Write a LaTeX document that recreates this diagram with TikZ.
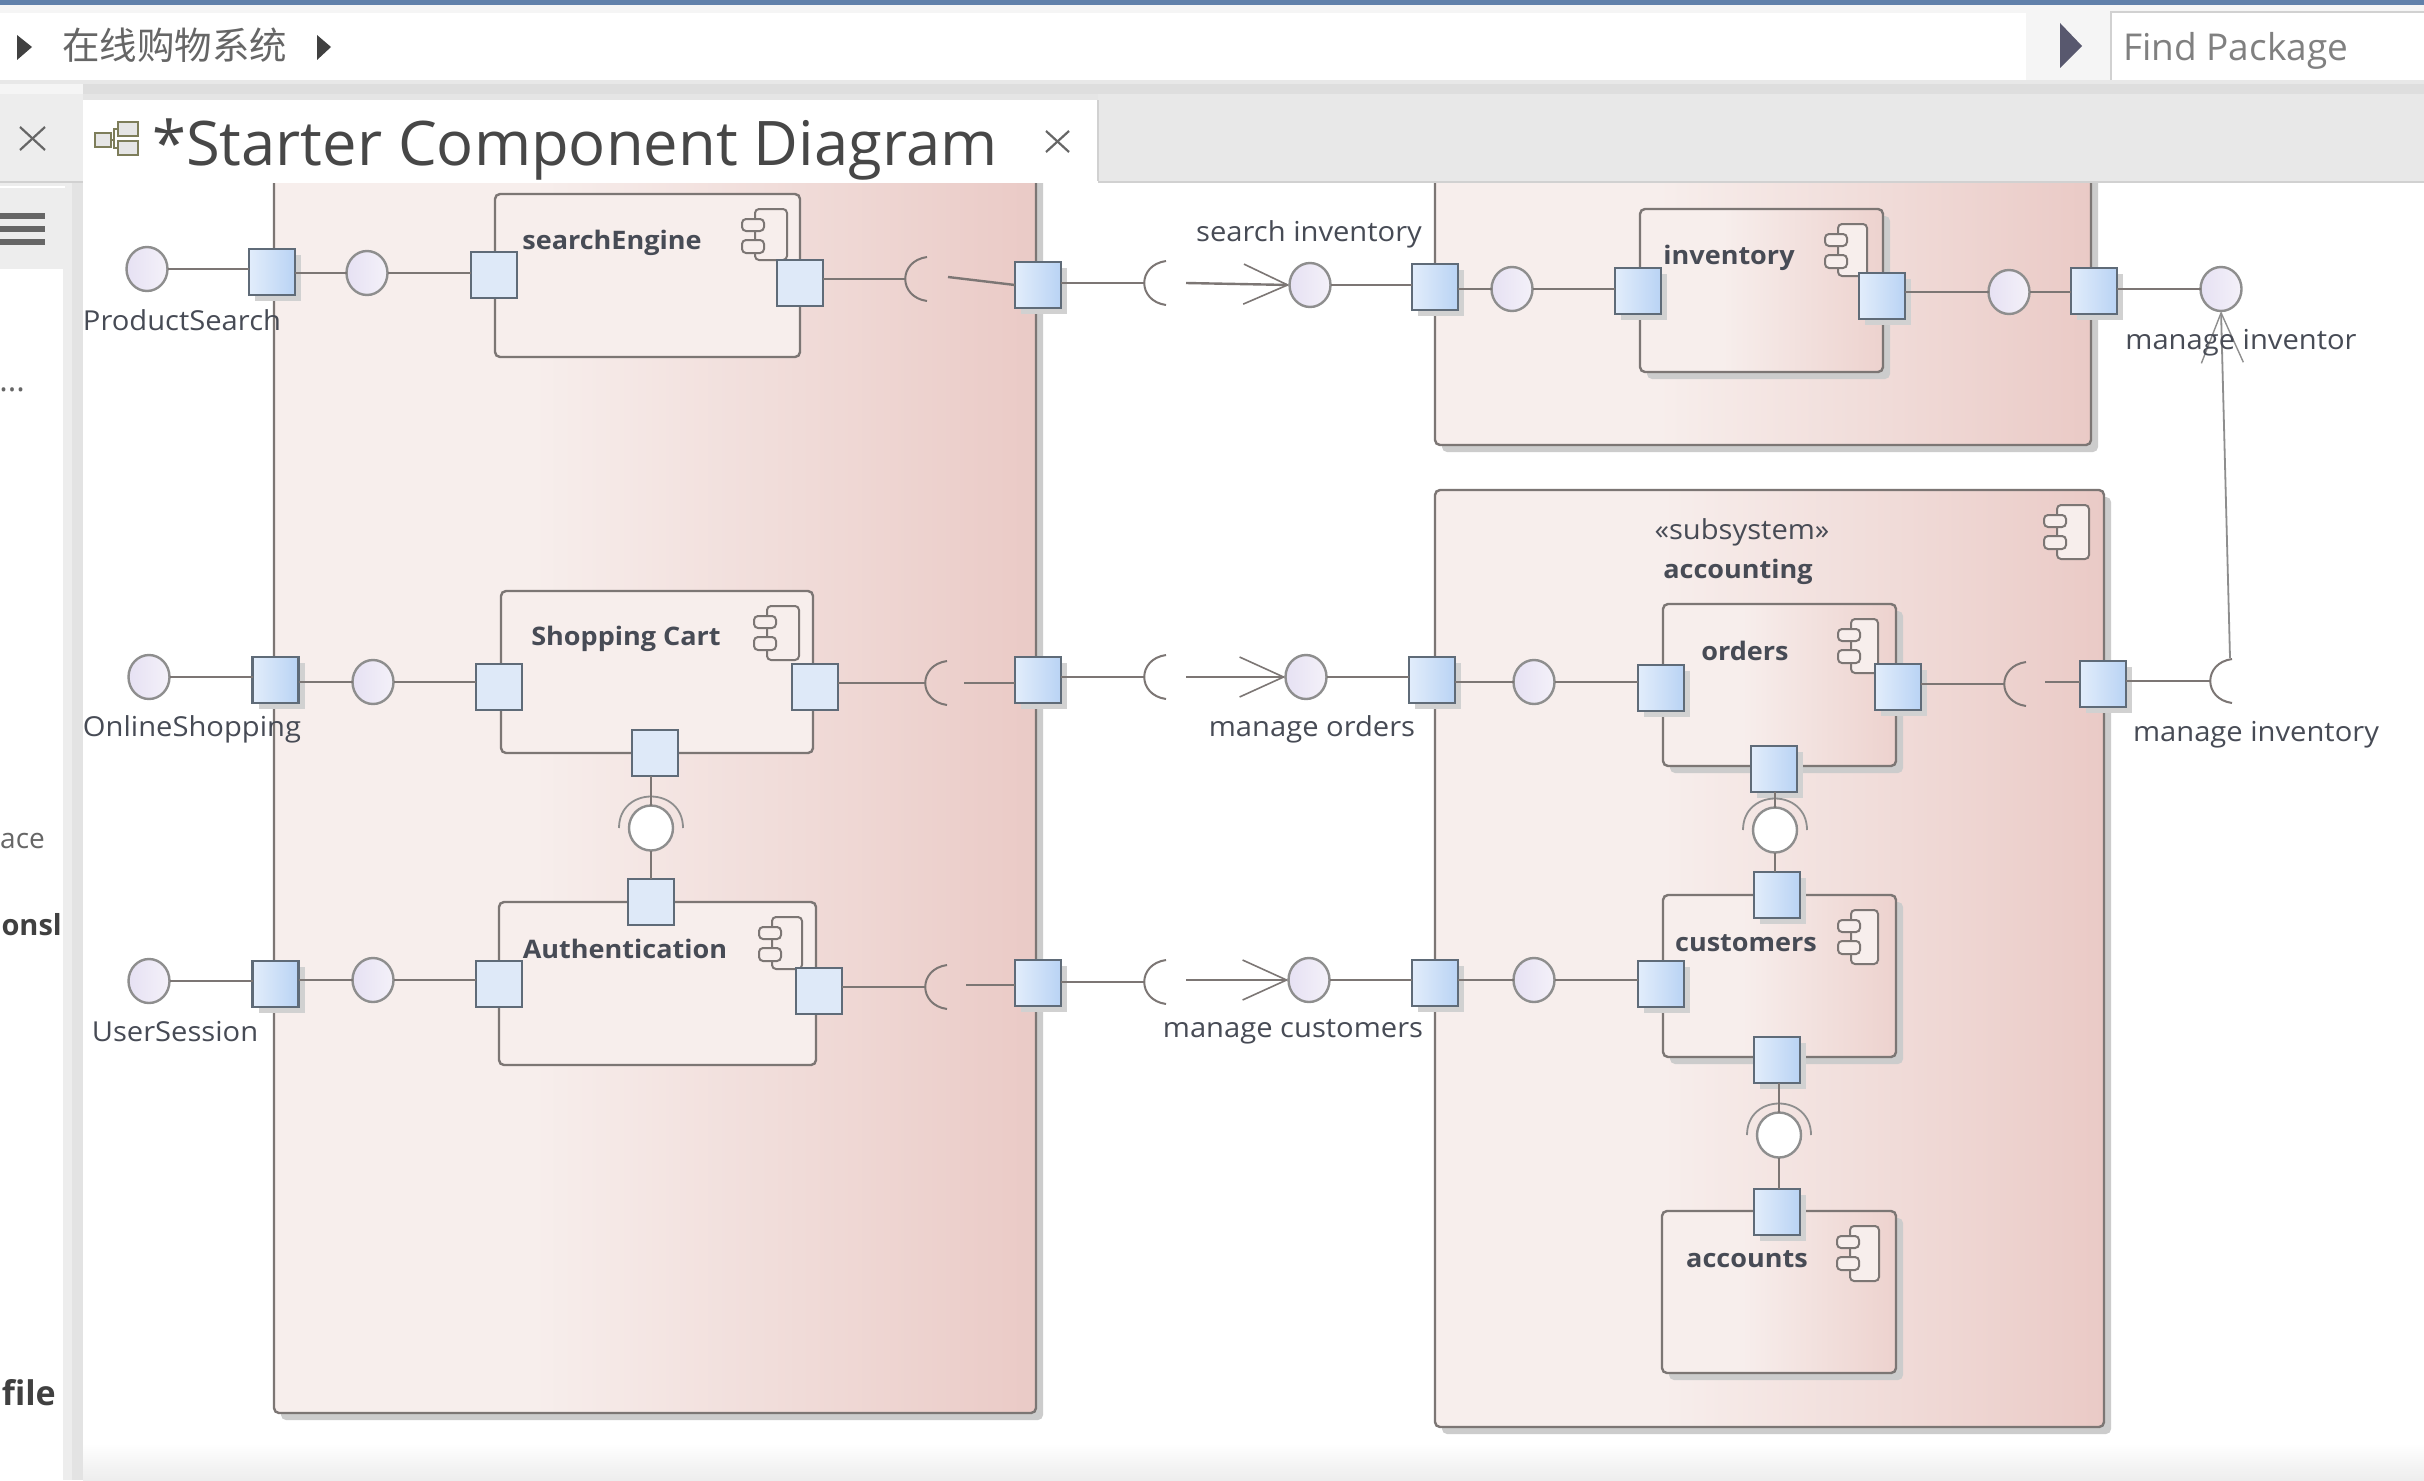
\documentclass[tikz,border=0pt]{standalone}
\usepackage{fontspec}
\setmainfont{Open Sans}
\newfontfamily\labf[FakeStretch=1.06]{Open Sans}
\newfontfamily\cjkf{Noto Sans CJK SC}
\usetikzlibrary{arrows.meta,shapes.geometric,shadows}
\definecolor{edgec}{HTML}{7C7674}
\definecolor{thinc}{HTML}{8E8E8E}
\definecolor{portb}{HTML}{5F6B78}
\definecolor{txtc}{HTML}{474B55}
\definecolor{pinkA}{HTML}{F7EEEC}
\definecolor{pinkB}{HTML}{EACAC6}
\definecolor{pinkC}{HTML}{EDD2CE}
\definecolor{portA}{HTML}{E2EDFB}
\definecolor{portB}{HTML}{B9D3F4}
\definecolor{portF}{HTML}{DEE9F8}
\definecolor{ballA}{HTML}{E6E1F3}
\definecolor{ballB}{HTML}{F4F1F9}
\definecolor{topblue}{RGB}{96,128,170}
\definecolor{slatearrow}{RGB}{88,88,110}
\definecolor{iconolive}{RGB}{125,125,90}
\pgfdeclarehorizontalshading{bigsh}{100bp}{color(0bp)=(pinkA); color(25bp)=(pinkA); color(42bp)=(pinkA); color(75bp)=(pinkB); color(100bp)=(pinkB)}
\pgfdeclarehorizontalshading{compsh}{100bp}{color(0bp)=(pinkA); color(25bp)=(pinkA); color(42bp)=(pinkA); color(75bp)=(pinkC); color(100bp)=(pinkC)}
\pgfdeclarehorizontalshading{portsh}{100bp}{color(0bp)=(portA); color(25bp)=(portA); color(75bp)=(portB); color(100bp)=(portB)}
\pgfdeclarehorizontalshading{ballsh}{100bp}{color(0bp)=(ballA); color(25bp)=(ballA); color(75bp)=(ballB); color(100bp)=(ballB)}
\tikzset{
  x=1pt,y=-1pt,
  bigbox/.style={draw=edgec,line width=2.4pt,rounded corners=5pt,shading=bigsh,inner sep=0,outer sep=0,anchor=north west,
    general shadow={shadow xshift=7pt,shadow yshift=-7pt,fill=black!20}},
  compg/.style={draw=edgec,line width=2.4pt,rounded corners=5pt,shading=compsh,inner sep=0,outer sep=0,anchor=north west,
    general shadow={shadow xshift=7pt,shadow yshift=-7pt,fill=black!20}},
  compf/.style={draw=edgec,line width=2.4pt,rounded corners=5pt,fill=pinkA,inner sep=0,outer sep=0,anchor=north west},
  portg/.style={draw=portb,line width=2.2pt,shading=portsh,minimum width=46pt,minimum height=46pt,inner sep=0,outer sep=0,
    general shadow={shadow xshift=6pt,shadow yshift=-6pt,fill=black!18}},
  portf/.style={draw=portb,line width=2.2pt,fill=portF,minimum width=46pt,minimum height=46pt,inner sep=0,outer sep=0},
  ballp/.style={ellipse,draw=thinc,line width=2.4pt,shading=ballsh,minimum width=41pt,minimum height=44pt,inner sep=0,outer sep=0},
  ballw/.style={ellipse,draw=thinc,line width=2.4pt,fill=white,minimum width=44pt,minimum height=45pt,inner sep=0,outer sep=0},
  conn/.style={draw=edgec,line width=2.4pt},
  sockline/.style={draw=edgec,line width=2pt},
  thin conn/.style={draw=thinc,line width=1.8pt},
  arr/.style={conn,-{Straight Barb[length=44pt,width=40pt,line width=1.6pt]}},
  lab/.style={text=txtc,font=\labf\fontsize{27.5}{30}\selectfont,inner sep=0},
  blab/.style={text=txtc,font=\labf\bfseries\fontsize{25.5}{30}\selectfont,inner sep=0},
  icn/.style={draw=edgec,line width=2pt,rounded corners=4pt,fill=pinkA},
  chrome/.style={fill=#1,draw=none},
  uiarrow/.style={fill=#1,draw=none},
}
\newcommand\comp[6]{\node[#1,minimum width={(#5-#3)*1pt},minimum height={(#6-#4)*1pt}] (#2) at (#3,#4) {};}
\newcommand\prt[4]{\node[#1] (#2) at (#3,#4) {};}
\newcommand\sock[3]{\coordinate (#1) at (#2,#3);
  \draw[sockline] (#2+22,#3-22) .. controls (#2-7,#3-18) and (#2-7,#3+18) .. (#2+22,#3+22);}
\newcommand\cradle[2]{\draw[thin conn] (#1-32,#2) .. controls (#1-32,#2-42) and (#1+32,#2-42) .. (#1+32,#2);}
\newcommand\cicon[4]{%
  \draw[icn] (#1+13,#2) rectangle (#3,#4);
  \draw[icn] (#1,#2+10) rectangle (#1+22,#2+22);
  \draw[icn] (#1,#2+31) rectangle (#1+22,#2+44);}
\begin{document}
\begin{tikzpicture}
\useasboundingbox (0,0) rectangle (2424,1480);
% canvas
\fill[white] (0,0) rectangle (2424,1480);
\shade[top color=white,bottom color=black!7,draw=none] (83,1443) rectangle (2424,1480);

% containers
\comp{bigbox}{leftsys}{274}{120}{1036}{1413}
\comp{bigbox}{invsys}{1435}{120}{2091}{445}
\comp{bigbox}{accsys}{1435}{490}{2104}{1427}
% components
\comp{compf}{search}{495}{194}{800}{357}
\comp{compf}{cart}{501}{591}{813}{753}
\comp{compf}{auth}{499}{902}{816}{1065}
\comp{compg}{inv}{1640}{209}{1883}{372}
\comp{compg}{orders}{1663}{604}{1896}{766}
\comp{compg}{cust}{1663}{895}{1896}{1057}
\comp{compg}{acct}{1662}{1211}{1896}{1373}
% component icons
\cicon{742}{209}{787}{260}
\cicon{754}{606}{799}{660}
\cicon{759}{917}{802}{969}
\cicon{1825}{224}{1867}{276}
\cicon{2044}{505}{2089}{559}
\cicon{1838}{619}{1878}{673}
\cicon{1838}{910}{1878}{964}
\cicon{1837}{1226}{1879}{1281}

% ports
\prt{portg}{pa1}{272}{272}
\prt{portg}{pa2}{275.5}{680}
\prt{portg}{pa3}{275.5}{984}
\prt{portf}{s1}{494}{275}
\prt{portf}{s2}{800}{283}
\prt{portf}{c1}{499}{687}
\prt{portf}{c2}{815}{687}
\prt{portf}{c3}{655}{753}
\prt{portf}{a0}{651}{902}
\prt{portf}{a1}{499}{984}
\prt{portf}{a2}{819}{991}
\prt{portg}{m1}{1038}{285}
\prt{portg}{m2}{1038}{680}
\prt{portg}{m3}{1038}{983}
\prt{portg}{r1}{1435}{287}
\prt{portg}{r2}{1432}{680}
\prt{portg}{r3}{1435}{983}
\prt{portg}{i1}{1638}{291}
\prt{portg}{i2}{1882}{296}
\prt{portg}{i3}{2094}{291}
\prt{portg}{o1}{1661}{688}
\prt{portg}{o2}{1898}{687}
\prt{portg}{o3}{1774}{769}
\prt{portg}{k0}{1777}{895}
\prt{portg}{k1}{1661}{984}
\prt{portg}{k3}{1777}{1060}
\prt{portg}{t0}{1777}{1212}
\prt{portg}{acr}{2103}{684}

% interface balls
\prt{ballp}{b1}{147}{269}
\prt{ballp}{b2}{149}{677}
\prt{ballp}{b3}{149}{981}
\prt{ballp}{n1}{367}{273}
\prt{ballp}{n2}{373}{682}
\prt{ballp}{n3}{373}{980}
\prt{ballp}{q1}{1310}{285}
\prt{ballp}{q2}{1306}{677}
\prt{ballp}{q3}{1309}{980}
\prt{ballp}{u1}{1512}{289}
\prt{ballp}{u2}{1534}{682}
\prt{ballp}{u3}{1534}{980}
\prt{ballp}{v1}{2009}{292}
\prt{ballp}{w1}{2221}{289}
% assembly connectors (ball and socket)
\cradle{651}{828}
\cradle{1775}{830}
\cradle{1779}{1135}
\prt{ballw}{j1}{651}{828}
\prt{ballw}{j2}{1775}{830}
\prt{ballw}{j3}{1779}{1135}

% sockets
\sock{sa}{905}{279}
\sock{sb}{925}{683}
\sock{sc}{925}{987}
\sock{sd}{1144}{283}
\sock{se}{1144}{677}
\sock{sf}{1144}{982}
\sock{sg}{2004}{684}
\sock{sh}{2210}{681}
% free line ends
\coordinate (ea) at (948,277);
\coordinate (eb) at (964,683);
\coordinate (ec) at (966,985);
\coordinate (ed) at (1186,283);
\coordinate (ee) at (1186,677);
\coordinate (ef) at (1186,980);
\coordinate (eg) at (2045,682);
\coordinate (eh) at (2230,658);

% connectors
\draw[conn] (b1.east) -- (b1.east -| pa1.west);
\draw[conn] (b2.east) -- (b2.east -| pa2.west);
\draw[conn] (b3.east) -- (b3.east -| pa3.west);
\draw[conn] (pa1.east |- n1.west) -- (n1.west);
\draw[conn] (pa2.east |- n2.west) -- (n2.west);
\draw[conn] (pa3.east |- n3.west) -- (n3.west);
\draw[conn] (n1.east) -- (n1.east -| s1.west);
\draw[conn] (n2.east) -- (n2.east -| c1.west);
\draw[conn] (n3.east) -- (n3.east -| a1.west);
\draw[conn] (s2.east |- sa) -- (sa);
\draw[conn] (c2.east |- sb) -- (sb);
\draw[conn] (a2.east |- sc) -- (sc);
\draw[conn] (ea) -- (m1.west);
\draw[conn] (eb) -- (eb -| m2.west);
\draw[conn] (ec) -- (ec -| m3.west);
\draw[conn] (m1.east |- sd) -- (sd);
\draw[conn] (m2.east |- se) -- (se);
\draw[conn] (m3.east |- sf) -- (sf);
\draw[arr] (ed) -- (q1.west);
\draw[arr] (ee) -- (q2.west);
\draw[arr] (ef) -- (q3.west);
\draw[conn] (q1.east) -- (q1.east -| r1.west);
\draw[conn] (q2.east) -- (q2.east -| r2.west);
\draw[conn] (q3.east) -- (q3.east -| r3.west);
\draw[conn] (r1.east |- u1.west) -- (u1.west);
\draw[conn] (r2.east |- u2.west) -- (u2.west);
\draw[conn] (r3.east |- u3.west) -- (u3.west);
\draw[conn] (u1.east) -- (u1.east -| i1.west);
\draw[conn] (u2.east) -- (u2.east -| o1.west);
\draw[conn] (u3.east) -- (u3.east -| k1.west);
\draw[conn] (i2.east |- v1.west) -- (v1.west);
\draw[conn] (v1.east) -- (v1.east -| i3.west);
\draw[conn] (i3.east |- w1.west) -- (w1.west);
\draw[conn] (o2.east |- sg) -- (sg);
\draw[conn] (eg) -- (eg -| acr.west);
\draw[conn] (acr.east |- sh) -- (sh);
\draw[thin conn,-{Straight Barb[length=50pt,width=42pt,line width=1.4pt]}] (eh) -- (w1.south);
\draw[conn] (c3.south -| j1.north) -- (j1.north);
\draw[conn] (j1.south) -- (j1.south |- a0.north);
\draw[conn] (o3.south -| j2.north) -- (j2.north);
\draw[conn] (j2.south) -- (j2.south |- k0.north);
\draw[conn] (k3.south -| j3.north) -- (j3.north);
\draw[conn] (j3.south) -- (j3.south |- t0.north);

% labels
\node[lab] (lps) at (182,320) {ProductSearch};
\node[lab] (los) at (192,729) {OnlineShopping};
\node[lab] (lus) at (175,1032) {UserSession};
\node[lab] (lsi) at (1309,234) {search inventory};
\node[lab] (lmo) at (1312,729) {manage orders};
\node[lab] (lmc) at (1293,1032) {manage customers};
\node[lab] (lmi) at (2241,343) {manage inventor};
\node[lab] (lmn) at (2256,735) {manage inventory};
\node[lab] (lss) at (1742,532) {«subsystem»};
\node[blab] (lac) at (1738,572) {accounting};
\node[blab] (lse) at (612,243) {searchEngine};
\node[blab] (lsc) at (626,639) {Shopping Cart};
\node[blab] (lau) at (625,949) {Authentication};
\node[blab] (lin) at (1729,258) {inventory};
\node[blab] (lor) at (1745,651) {orders};
\node[blab] (lcu) at (1746,943) {customers};
\node[blab] (lat) at (1747,1259) {accounts};

% window chrome
\fill[chrome=black!9] (1098,94) rectangle (2424,182);
\fill[chrome=black!7] (0,94) rectangle (83,269);
\fill[chrome=white] (83,100) rectangle (1098,182);
\fill[chrome=black!4] (0,0) rectangle (2424,94);
\fill[chrome=black!13] (83,84) rectangle (2424,94);
\fill[chrome=black!10] (83,94) rectangle (1098,100);
\fill[chrome=white] (0,13) rectangle (2026,80);
\fill[chrome=white] (2111,12) rectangle (2424,81);
\draw[black!18,line width=1.6pt] (2111,81) -- (2111,12) -- (2424,12);
\draw[black!18,line width=1.6pt] (2111,81) -- (2424,81);
\fill[chrome=black!9] (0,80) rectangle (2424,84);
\fill[chrome=topblue] (0,0) rectangle (2424,5);
\fill[chrome=black!7] (63,182) rectangle (83,1480);
\fill[chrome=white] (0,269) rectangle (63,1480);
\fill[chrome=black!11] (72,182) rectangle (83,1480);
\fill[chrome=white] (0,186) rectangle (65,188);
\draw[black!18,line width=1.6pt] (0,182) -- (2424,182);
\draw[black!18,line width=1.6pt] (1098,100) -- (1098,182);
\fill[chrome=white] (83,181) rectangle (1098,183);
% hamburger
\draw[black!60,line width=6pt] (0,216) -- (45,216) (0,229) -- (45,229) (0,242) -- (45,242);
% breadcrumb arrows
\fill[uiarrow=black!75] (17,35) -- (32,47) -- (17,60) -- cycle;
\fill[uiarrow=black!75] (317,35) -- (331,47) -- (317,60) -- cycle;
\fill[uiarrow=slatearrow] (2060,23) -- (2082,46) -- (2060,68) -- cycle;
% breadcrumb
\node[anchor=west,inner sep=0,text=black!60,font=\cjkf\fontsize{37.5}{40}\selectfont] (crumb) at (62,45) {在线购物系统};
\node[anchor=west,inner sep=0,text=black!50,font=\fontsize{37}{40}\selectfont] (find) at (2123,51) {Find Package};
% tab
\node[anchor=west,inner sep=0,text=black!72,font=\fontsize{61.5}{70}\selectfont] (title) at (152,150) {*Starter Component Diagram};
\draw[iconolive,line width=2pt,fill=black!10] (95,133) rectangle (111,147);
\draw[iconolive,line width=2pt,fill=black!10] (118,122) rectangle (138,136);
\draw[iconolive,line width=2pt,fill=black!10] (118,141) rectangle (138,155);
\draw[iconolive,line width=2pt] (111,140) -- (114,140) (118,129) -- (114,129) -- (114,148) -- (118,148);
\draw[black!60,line width=2.2pt] (1046,131) -- (1069,152) (1069,131) -- (1046,152);
\draw[black!60,line width=2.2pt] (20,127) -- (45,150) (45,127) -- (20,150);
% text of the side pane
\node[anchor=east,inner sep=0,text=black!60,font=\fontsize{32}{36}\selectfont] (pa) at (25,390) {...};
\node[anchor=east,inner sep=0,text=black!60,font=\fontsize{28}{36}\selectfont] (pb) at (45,841) {ace};
\node[anchor=east,inner sep=0,text=black!75,font=\bfseries\fontsize{29}{36}\selectfont] (pc) at (62,925) {onsl};
\node[anchor=east,inner sep=0,text=black!75,font=\bfseries\fontsize{34}{36}\selectfont] (pd) at (56,1393) {file};
\end{tikzpicture}
\end{document}
